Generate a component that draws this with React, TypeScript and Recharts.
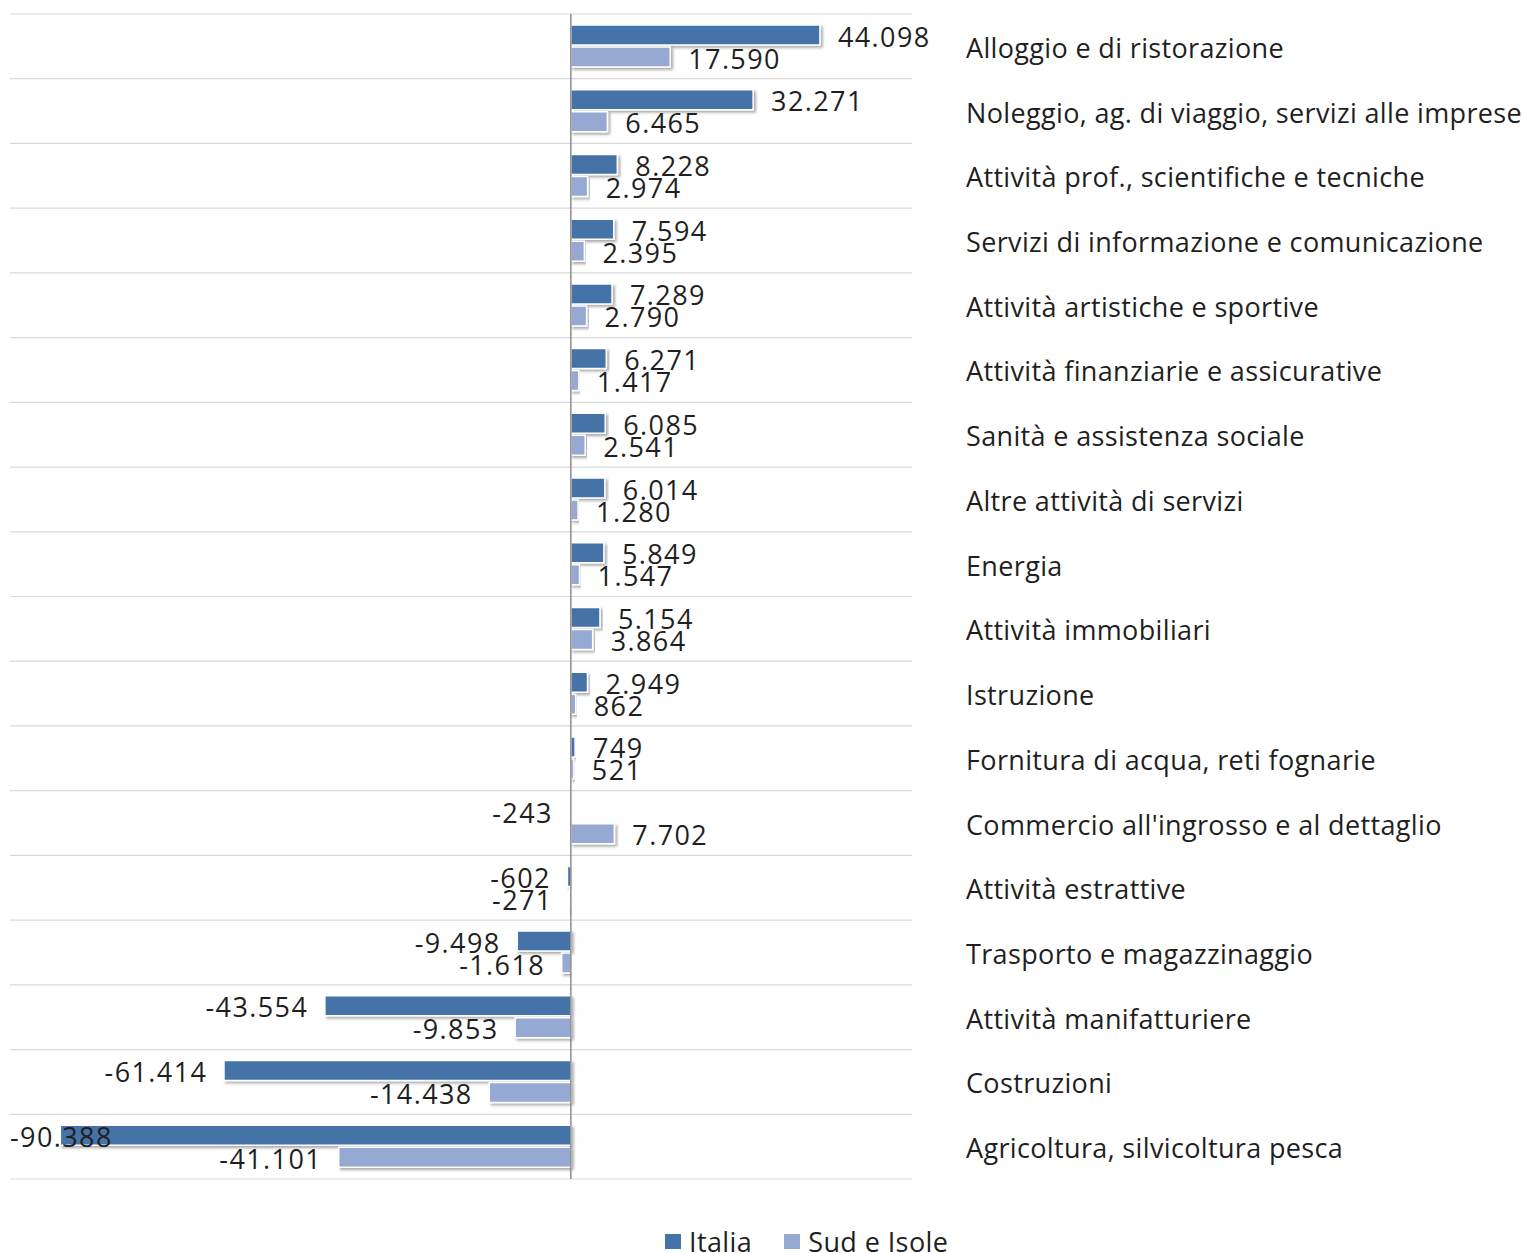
import React from 'react';
import { BarChart, Bar, XAxis, YAxis, CartesianGrid, ReferenceLine, LabelList, Legend } from 'recharts';

const categories = [
  'Alloggio e di ristorazione',
  'Noleggio, ag. di viaggio, servizi alle imprese',
  'Attività prof., scientifiche e tecniche',
  'Servizi di informazione e comunicazione',
  'Attività artistiche e sportive',
  'Attività finanziarie e assicurative',
  'Sanità e assistenza sociale',
  'Altre attività di servizi',
  'Energia',
  'Attività immobiliari',
  'Istruzione',
  'Fornitura di acqua, reti fognarie',
  "Commercio all'ingrosso e al dettaglio",
  'Attività estrattive',
  'Trasporto e magazzinaggio',
  'Attività manifatturiere',
  'Costruzioni',
  'Agricoltura, silvicoltura pesca',
];

const italia = [44098, 32271, 8228, 7594, 7289, 6271, 6085, 6014, 5849, 5154, 2949, 749, -243, -602, -9498, -43554, -61414, -90388];
const sudIsole = [17590, 6465, 2974, 2395, 2790, 1417, 2541, 1280, 1547, 3864, 862, 521, 7702, -271, -1618, -9853, -14438, -41101];

const data = categories.map((name, i) => ({ name, italia: italia[i], sud: sudIsole[i] }));

const FONT = '"Open Sans", sans-serif';
const FS = 27;
const NUM_LS = 1.4;
const C_ITA = '#4572A7';
const C_SUD = '#95A9D2';
const PLOT_LEFT = 10;

const fmt = (v: number) => {
  const s = Math.abs(v).toString().replace(/\B(?=(\d{3})+(?!\d))/g, '.');
  return (v < 0 ? '-' : '') + s;
};

// rough text width for Open Sans
const textWidth = (s: string) => {
  let w = 0;
  for (const ch of s) {
    if (ch === '.') w += 0.27 * FS;
    else if (ch === '-') w += 0.32 * FS;
    else w += 0.572 * FS;
    w += NUM_LS;
  }
  return w;
};

const ValueLabel = (props: any) => {
  const { x, y, width, height, value } = props;
  const a = Number(x);
  const b = Number(x) + Number(width);
  const cy = Number(y) + Number(height) / 2;
  const txt = fmt(Number(value));
  let tx: number;
  let anchor: 'start' | 'end' = 'start';
  if (value >= 0) {
    tx = Math.max(a, b) + 18;
  } else {
    const end = Math.min(a, b) - 18;
    if (end - textWidth(txt) < PLOT_LEFT) {
      tx = PLOT_LEFT;
    } else {
      tx = end + NUM_LS;
      anchor = 'end';
    }
  }
  return (
    <text
      x={tx}
      y={cy}
      dy={1}
      textAnchor={anchor}
      dominantBaseline="central"
      fontFamily={FONT}
      fontSize={FS}
      fill="#1f1f1f"
      style={{ letterSpacing: NUM_LS }}
    >
      {txt}
    </text>
  );
};

const CategoryTick = (props: any) => {
  const { x, y, payload } = props;
  return (
    <text
      x={x + 46}
      y={y}
      dy={1}
      textAnchor="start"
      dominantBaseline="central"
      fontFamily={FONT}
      fontSize={FS}
      fill="#1f1f1f"
      style={{ letterSpacing: 0.35 }}
    >
      {payload.value}
    </text>
  );
};

const LegendContent = (props: any) => {
  const items = props.payload || [];
  return (
    <div style={{ display: 'flex', alignItems: 'center', height: 40, fontFamily: FONT, fontSize: FS, color: '#1f1f1f', whiteSpace: 'nowrap' }}>
      {items.map((it: any, i: number) => (
        <div key={it.value} style={{ display: 'flex', alignItems: 'center', marginRight: i === 0 ? 32 : 0 }}>
          <span style={{ width: 16, height: 15, background: it.color, display: 'inline-block', marginRight: 8 }} />
          <span style={{ letterSpacing: 0.4 }}>{it.value}</span>
        </div>
      ))}
    </div>
  );
};

const gridRows = ({ offset }: any) => {
  const step = offset.height / categories.length;
  return categories.map((_, i) => offset.top + i * step).concat([offset.top + offset.height]);
};

export default function App() {
  return (
    <div style={{ position: 'absolute', left: 0, top: 0, width: 1523, height: 1253, background: '#fff' }}>
      <BarChart
        width={1523}
        height={1253}
        data={data}
        layout="vertical"
        margin={{ top: 14, right: 0, bottom: 34, left: PLOT_LEFT }}
        barSize={20}
        barGap={2}
      >
        <defs>
          <filter id="shadow" x="-5%" y="-30%" width="115%" height="180%">
            <feDropShadow dx="2" dy="2" stdDeviation="1.5" floodColor="#000" floodOpacity="0.35" />
          </filter>
        </defs>
        <CartesianGrid vertical={false} stroke="#d9d9d9" strokeWidth={1.2} horizontalCoordinatesGenerator={gridRows} />
        <XAxis type="number" domain={[-99300, 60400]} hide allowDataOverflow />
        <YAxis
          type="category"
          dataKey="name"
          orientation="right"
          width={611}
          axisLine={false}
          tickLine={false}
          interval={0}
          tick={<CategoryTick />}
        />
        <ReferenceLine x={0} stroke="#8c8c8c" strokeWidth={1.5} />
        <Bar dataKey="italia" name="Italia" fill={C_ITA} stroke="#fff" strokeWidth={1.5} filter="url(#shadow)" isAnimationActive={false}>
          <LabelList dataKey="italia" content={<ValueLabel />} />
        </Bar>
        <Bar dataKey="sud" name="Sud e Isole" fill={C_SUD} stroke="#fff" strokeWidth={1.5} filter="url(#shadow)" isAnimationActive={false}>
          <LabelList dataKey="sud" content={<ValueLabel />} />
        </Bar>
        <Legend
          verticalAlign="bottom"
          align="left"
          content={<LegendContent />}
          wrapperStyle={{ left: 665, top: 1221, width: 340, height: 40 }}
        />
      </BarChart>
    </div>
  );
}
